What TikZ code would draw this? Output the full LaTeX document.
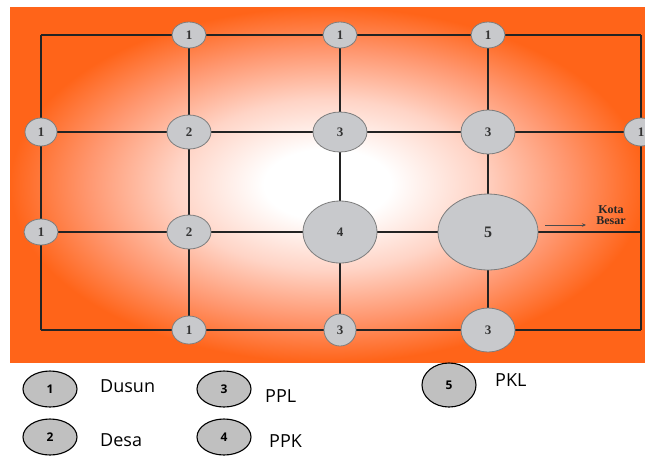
\documentclass[tikz,border=0pt]{standalone}
\usepackage{fontspec}
\setmainfont{Liberation Serif}
\newfontfamily\legfont{Open Sans}
\usetikzlibrary{shapes.geometric,arrows.meta}
\definecolor{bgorange}{RGB}{255,100,25}
\definecolor{bgmid}{RGB}{255,212,198}
\definecolor{bgmid2}{RGB}{255,150,110}
\definecolor{nodegray}{RGB}{200,201,204}
\definecolor{nodeedge}{RGB}{125,125,125}
\definecolor{leggray}{RGB}{192,192,192}
\definecolor{gridcol}{RGB}{35,35,35}
\pgfdeclareradialshading{glow}{\pgfpoint{0bp}{0bp}}{color(0bp)=(white); color(5bp)=(white); color(12bp)=(bgmid); color(19bp)=(bgmid2); color(25bp)=(bgorange); color(50bp)=(bgorange)}
\pgfdeclarelayer{back}
\pgfdeclarelayer{lines}
\pgfsetlayers{back,lines,main}
\tikzset{
  gnode/.style={ellipse, draw=nodeedge, line width=0.8pt, fill=nodegray, inner sep=0pt,
    font=\bfseries\fontsize{13}{13}\selectfont, text=black!80},
  gline/.style={draw=gridcol, line width=2.4pt},
  legc/.style={ellipse, draw=black, line width=1.1pt, fill=leggray, inner sep=0pt,
    minimum width=54pt, minimum height=36pt, font=\legfont\bfseries\fontsize{12}{12}\selectfont},
  leglab/.style={anchor=west, inner sep=0pt, font=\legfont\fontsize{18}{18}\selectfont},
  kotalab/.style={align=center, inner sep=0pt, font=\bfseries\fontsize{12}{11}\selectfont, text=black!85}
}
\begin{document}
\begin{tikzpicture}[x=1pt,y=-1pt]
\useasboundingbox (0,0) rectangle (645,459);
\begin{pgfonlayer}{back}
\shade[shading=glow] (10,7) rectangle (645,362);
\end{pgfonlayer}

% corners
\coordinate (TL) at (41,35);
\coordinate (TR) at (641,35);
\coordinate (BL) at (41,330);
\coordinate (BR) at (641,330);
\coordinate (RR) at (641,232);

% grid nodes
\node[gnode, minimum width=34pt, minimum height=26pt] (T1) at (189,35) {1};
\node[gnode, minimum width=34pt, minimum height=26pt] (T2) at (340,35) {1};
\node[gnode, minimum width=34pt, minimum height=26pt] (T3) at (488,35) {1};
\node[gnode, minimum width=32pt, minimum height=28pt] (L1) at (41,132) {1};
\node[gnode, minimum width=44pt, minimum height=34pt] (D2a) at (189,132) {2};
\node[gnode, minimum width=54pt, minimum height=40pt] (P3a) at (340,132) {3};
\node[gnode, minimum width=54pt, minimum height=44pt] (P3b) at (488,132) {3};
\node[gnode, minimum width=34pt, minimum height=28pt] (R1) at (641,132) {1};
\node[gnode, minimum width=34pt, minimum height=26pt] (L2) at (41,232) {1};
\node[gnode, minimum width=44pt, minimum height=34pt] (D2b) at (189,232) {2};
\node[gnode, minimum width=74pt, minimum height=62pt] (P4) at (340,232) {4};
\node[gnode, minimum width=100pt, minimum height=76pt, font=\bfseries\fontsize{16}{16}\selectfont] (P5) at (488,232) {5};
\node[gnode, minimum width=34pt, minimum height=28pt] (B1) at (189,330) {1};
\node[gnode, minimum width=32pt, minimum height=32pt] (B2) at (340,330) {3};
\node[gnode, minimum width=54pt, minimum height=44pt] (B3) at (488,330) {3};

\begin{pgfonlayer}{lines}
% outer frame
\draw[gline] (TL) -- (T1);
\draw[gline] (T1) -- (T2);
\draw[gline] (T2) -- (T3);
\draw[gline] (T3) -- (TR);
\draw[gline] (TR) -- (R1);
\draw[gline] (R1) -- (RR);
\draw[gline] (RR) -- (BR);
\draw[gline] (BR) -- (B3);
\draw[gline] (B3) -- (B2);
\draw[gline] (B2) -- (B1);
\draw[gline] (B1) -- (BL);
\draw[gline] (BL) -- (L2);
\draw[gline] (L2) -- (L1);
\draw[gline] (L1) -- (TL);
% inner rows
\draw[gline] (L1) -- (D2a);
\draw[gline] (D2a) -- (P3a);
\draw[gline] (P3a) -- (P3b);
\draw[gline] (P3b) -- (R1);
\draw[gline] (L2) -- (D2b);
\draw[gline] (D2b) -- (P4);
\draw[gline] (P4) -- (P5);
\draw[gline] (P5) -- (RR);
% inner columns
\draw[gline] (T1) -- (D2a);
\draw[gline] (D2a) -- (D2b);
\draw[gline] (D2b) -- (B1);
\draw[gline] (T2) -- (P3a);
\draw[gline] (P3a) -- (P4);
\draw[gline] (P4) -- (B2);
\draw[gline] (T3) -- (P3b);
\draw[gline] (P3b) -- (P5);
\draw[gline] (P5) -- (B3);
\end{pgfonlayer}

% Kota Besar
\node[kotalab] (kota) at (611,215) {Kota\\Besar};
\coordinate (ka) at (545,225);
\coordinate (kb) at (586,225);
\draw[-{Stealth[length=4pt,width=3.5pt]}, line width=0.8pt, black!70] (ka) -- (kb);

% legend
\node[legc] (k1) at (50,389) {\raisebox{-3pt}{1}};
\node[leglab] (t1) at (100,386) {Dusun};
\node[legc] (k2) at (50,437) {\raisebox{-4pt}{2}};
\node[leglab] (t2) at (100,440) {Desa};
\node[legc] (k3) at (224,389) {\raisebox{-3pt}{3}};
\node[leglab] (t3) at (265,396) {PPL};
\node[legc] (k4) at (224,437) {\raisebox{-4pt}{4}};
\node[leglab] (t4) at (269,441) {PPK};
\node[legc, minimum width=54pt, minimum height=44pt] (k5) at (449,385) {\raisebox{-3pt}{5}};
\node[leglab] (t5) at (495,380) {PKL};
\end{tikzpicture}
\end{document}
